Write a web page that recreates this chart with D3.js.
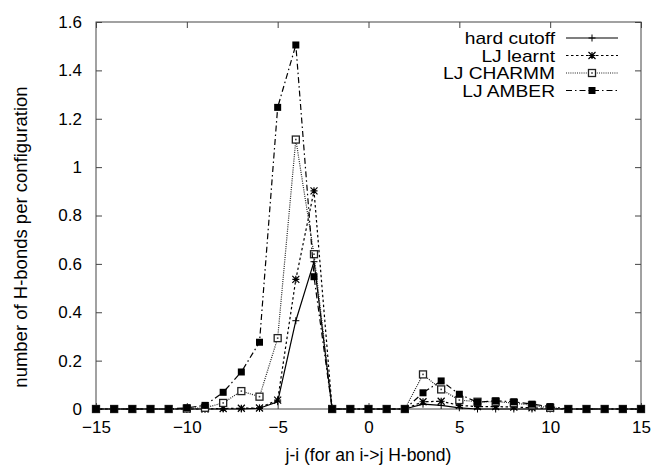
<!DOCTYPE html>
<html>
<head>
<meta charset="utf-8">
<script src="https://cdn.jsdelivr.net/npm/d3@7"></script>
<style>
  html, body { margin: 0; padding: 0; background: #fff; }
  svg text { font-family: "Liberation Sans", Arial, Helvetica, sans-serif; fill: #000; }
</style>
</head>
<body>
<svg id="chart" width="655" height="466"></svg>
<script>
// Sequence separation j-i for an i->j hydrogen bond
const separations = d3.range(-15, 16);

// Mean number of H-bonds per configuration at each separation
const hardCutoff = [0,0,0,0,0, 0,0,0,0,0.003, 0.03,0.365,0.609,0,0, 0,0,0,0.02,0.015, 0.005,0,0,0,0, 0,0,0,0,0, 0];
const ljLearnt   = [0,0,0,0,0, 0,0,0.002,0.003,0.004, 0.037,0.536,0.902,0,0, 0,0,0,0.03,0.032, 0.015,0.01,0.01,0.008,0.005, 0.002,0,0,0,0, 0];
const ljCharmm   = [0,0,0,0,0, 0.002,0.005,0.025,0.074,0.051, 0.293,1.114,0.64,0,0, 0,0,0,0.143,0.081, 0.037,0.03,0.03,0.025,0.015, 0.005,0,0,0,0, 0];
const ljAmber    = [0,0,0,0,0, 0.005,0.015,0.069,0.153,0.276, 1.247,1.505,0.547,0,0, 0,0,0,0.067,0.116, 0.061,0.028,0.034,0.03,0.02, 0.01,0,0,0,0, 0];

const xTicks = [-15, -10, -5, 0, 5, 10, 15];
const yTicks = [0, 0.2, 0.4, 0.6, 0.8, 1, 1.2, 1.4, 1.6];

const seriesDefs = [
  { name: "hard cutoff", values: hardCutoff, dash: null,        stroke: "#000", marker: "plus" },
  { name: "LJ learnt",   values: ljLearnt,   dash: "2.5,2.5",   stroke: "#000", marker: "star" },
  { name: "LJ CHARMM",   values: ljCharmm,   dash: "1,1.2",     stroke: "#222", marker: "openSquare" },
  { name: "LJ AMBER",    values: ljAmber,    dash: "6,3,1.5,3", stroke: "#000", marker: "filledSquare" }
];

const svg = d3.select("#chart");
const plotL = 96, plotR = 641, plotT = 22, plotB = 409;

const x = d3.scaleLinear().domain([-15, 15]).range([plotL, plotR]);
const y = d3.scaleLinear().domain([0, 1.6]).range([plotB, plotT]);

const frameColor = "#444";
const tickLen = 6;

// Inward ticks on all four sides, labels on left and bottom
const axisLeft = d3.axisLeft(y).tickValues(yTicks).tickSizeInner(-tickLen).tickSizeOuter(0)
  .tickPadding(14).tickFormat(d => String(+d.toFixed(1)));
const axisRight = d3.axisRight(y).tickValues(yTicks).tickSizeInner(-tickLen).tickSizeOuter(0).tickFormat("");
const axisBottom = d3.axisBottom(x).tickValues(xTicks).tickSizeInner(-tickLen).tickSizeOuter(0).tickPadding(12);
const axisTop = d3.axisTop(x).tickValues(xTicks).tickSizeInner(-tickLen).tickSizeOuter(0).tickFormat("");

function styleAxis(g) {
  g.select(".domain").remove();
  g.selectAll(".tick line").attr("stroke", frameColor).attr("stroke-width", 1);
  g.selectAll(".tick text").attr("font-size", 17).attr("fill", "#000")
    .style("font-family", "'Liberation Sans', Arial, sans-serif");
}

svg.append("g").attr("transform", `translate(${plotL},0)`).call(axisLeft).call(styleAxis);
svg.append("g").attr("transform", `translate(${plotR},0)`).call(axisRight).call(styleAxis);
svg.append("g").attr("transform", `translate(0,${plotB})`).call(axisBottom).call(styleAxis);
svg.append("g").attr("transform", `translate(0,${plotT})`).call(axisTop).call(styleAxis);

// Frame
svg.append("rect")
  .attr("x", plotL).attr("y", plotT)
  .attr("width", plotR - plotL).attr("height", plotB - plotT)
  .attr("fill", "none").attr("stroke", frameColor).attr("stroke-width", 1);

// Axis titles
svg.append("text")
  .attr("x", x(0)).attr("y", 461)
  .attr("text-anchor", "middle").attr("font-size", 17.5)
  .text("j-i (for an i->j H-bond)");

svg.append("text")
  .attr("transform", `translate(27,237) rotate(-90)`)
  .attr("text-anchor", "middle").attr("font-size", 18.5)
  .text("number of H-bonds per configuration");

// Point markers
function drawMarker(g, type, cx, cy, color) {
  const s = 3.5;
  if (type === "plus") {
    g.append("path").attr("d", `M${cx - s},${cy}H${cx + s}M${cx},${cy - s}V${cy + s}`)
      .attr("stroke", color).attr("stroke-width", 1).attr("fill", "none");
  } else if (type === "star") {
    g.append("path").attr("d",
      `M${cx - s},${cy}H${cx + s}M${cx},${cy - s}V${cy + s}` +
      `M${cx - s},${cy - s}L${cx + s},${cy + s}M${cx - s},${cy + s}L${cx + s},${cy - s}`)
      .attr("stroke", color).attr("stroke-width", 1.2).attr("fill", "none");
  } else if (type === "openSquare") {
    g.append("rect").attr("x", cx - s).attr("y", cy - s).attr("width", 2 * s).attr("height", 2 * s)
      .attr("fill", "#fff").attr("stroke", "#222").attr("stroke-width", 1.3);
    g.append("rect").attr("x", cx - 0.8).attr("y", cy - 0.8).attr("width", 1.6).attr("height", 1.6)
      .attr("fill", "#444");
  } else if (type === "filledSquare") {
    g.append("rect").attr("x", cx - s).attr("y", cy - s).attr("width", 2 * s).attr("height", 2 * s)
      .attr("fill", "#000");
  }
}

const line = d3.line().x(d => x(d[0])).y(d => y(d[1]));

const plot = svg.append("g");
seriesDefs.forEach(sd => {
  const pts = separations.map((s, i) => [s, sd.values[i]]);
  plot.append("path")
    .datum(pts)
    .attr("d", line)
    .attr("fill", "none")
    .attr("stroke", sd.stroke)
    .attr("stroke-width", 1.2)
    .attr("stroke-dasharray", sd.dash);
  const mg = plot.append("g");
  pts.forEach(p => drawMarker(mg, sd.marker, x(p[0]), y(p[1]), sd.stroke));
});

// Legend: tightly stacked rows, text slightly widened
const legend = svg.append("g");
const legTextX = 555, legLineX0 = 566, legLineX1 = 618, legY0 = 38, legDy = 17.5;
seriesDefs.forEach((sd, i) => {
  const ly = legY0 + i * legDy;
  legend.append("text")
    .attr("transform", `translate(${legTextX},${ly + 6}) scale(1.2,1)`)
    .attr("text-anchor", "end").attr("font-size", 16)
    .text(sd.name);
  legend.append("line")
    .attr("x1", legLineX0).attr("x2", legLineX1).attr("y1", ly).attr("y2", ly)
    .attr("stroke", sd.stroke).attr("stroke-width", 1.2)
    .attr("stroke-dasharray", sd.dash);
  drawMarker(legend, sd.marker, (legLineX0 + legLineX1) / 2, ly, sd.stroke);
});
</script>
</body>
</html>
